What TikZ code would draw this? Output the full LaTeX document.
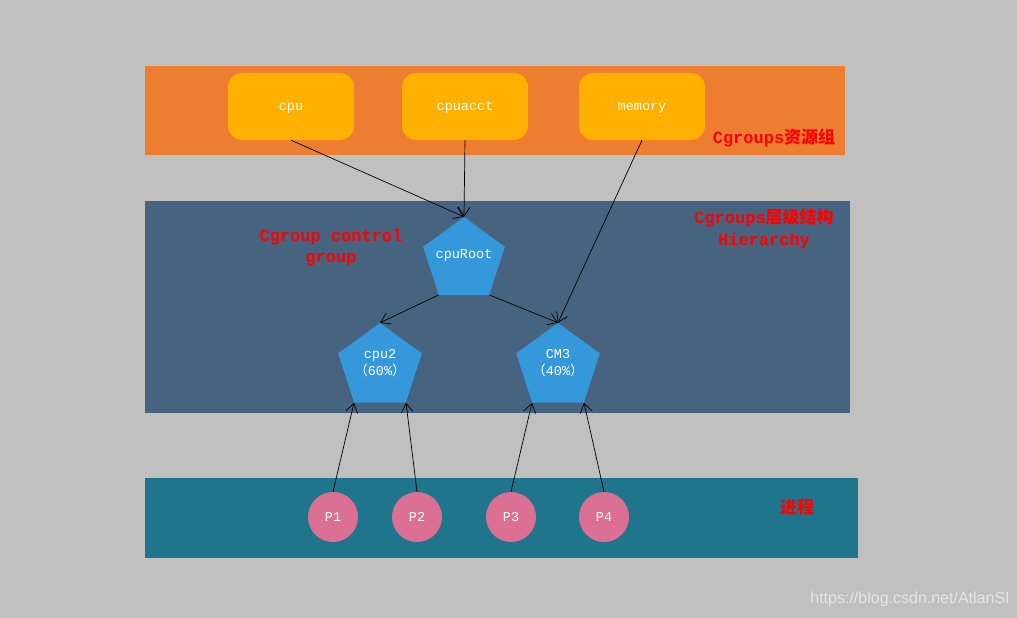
\documentclass[tikz,border=0pt]{standalone}
\usepackage{fontspec}
\setmainfont{Liberation Mono}
\newfontfamily\cjk{Noto Sans CJK SC}
\newfontfamily\wmfont{Liberation Sans}
\usetikzlibrary{shapes.geometric,arrows.meta}
\definecolor{bggray}{HTML}{C0C0C0}
\definecolor{bandorange}{HTML}{ED7D31}
\definecolor{boxyellow}{HTML}{FFB000}
\definecolor{bandslate}{HTML}{46637F}
\definecolor{pentblue}{HTML}{3498DB}
\definecolor{bandteal}{HTML}{1F758B}
\definecolor{procpink}{HTML}{DC7094}
\definecolor{labred}{HTML}{FF0000}
\definecolor{wmgray}{HTML}{E6E6E6}
\tikzset{
  resbox/.style={fill=boxyellow, rounded corners=14pt, minimum width=126pt, minimum height=67pt, inner sep=0pt, text=white, text depth=0pt, font=\fontsize{13.5pt}{17pt}\selectfont},
  pent/.style={regular polygon, regular polygon sides=5, fill=pentblue, inner sep=0pt},
  ptext/.style={text=white, align=center, font=\fontsize{13.5pt}{17pt}\selectfont, inner sep=0pt},
  proc/.style={circle, fill=procpink, minimum size=50pt, inner sep=0pt, text=white, font=\fontsize{13.5pt}{17pt}\selectfont},
  redlab/.style={text=labred, align=center, inner sep=0pt, font=\bfseries\fontsize{17pt}{21pt}\selectfont},
  arr/.style={draw=black, line width=0.7pt, -{Straight Barb[length=9pt,width=12pt]}}
}
\begin{document}
\begin{tikzpicture}[x=1pt,y=-1pt]
\fill[bggray] (0,0) rectangle (1017,618);
\useasboundingbox (0,0) rectangle (1017,618);
% bands
\fill[bandorange] (145,66) rectangle (845,155);
\fill[bandslate] (145,201) rectangle (850,413);
\fill[bandteal] (145,478) rectangle (858,558);
% resource boxes
\node[resbox] (cpu) at (291,106.5) {cpu};
\node[resbox] (cpuacct) at (465,106.5) {cpuacct};
\node[resbox] (memory) at (642,106.5) {memory};
\node[redlab] (lres) at (774,138) {Cgroups{\cjk 资源组}};
% hierarchy
\node[pent, minimum size=86pt] (root) at (464,260) {};
\node[pent, minimum size=88pt] (cpu2) at (380,367) {};
\node[pent, minimum size=88pt] (cm3) at (558,367) {};
\node[ptext] (rootT) at (464,255) {cpuRoot};
\node[ptext] (cpu2T) at (380,363) {cpu2\\{\cjk （}60\%{\cjk ）}};
\node[ptext] (cm3T) at (558,363) {CM3\\{\cjk （}40\%{\cjk ）}};
\node[redlab] (lcg) at (331,248) {Cgroup control\\group};
\node[redlab, font=\bfseries\fontsize{17pt}{22pt}\selectfont] (lhier) at (764,229) {Cgroups{\cjk 层级结构}\\Hierarchy};
% processes
\node[proc] (p1) at (333,517) {P1};
\node[proc] (p2) at (417,517) {P2};
\node[proc] (p3) at (511,517) {P3};
\node[proc] (p4) at (604,517) {P4};
\node[redlab] (lproc) at (797,507) {\cjk 进程};
% watermark
\node[text=wmgray, inner sep=0pt, font=\wmfont\fontsize{16pt}{18pt}\selectfont] (wm) at (910,599) {https://blog.csdn.net/AtlanSI};
% connectors
\draw[arr] (cpu.south) -- (root.corner 1);
\draw[arr] (cpuacct.south) -- (root.corner 1);
\draw[arr] (memory.south) -- (cm3.corner 1);
\draw[arr] (root.corner 3) -- (cpu2.corner 1);
\draw[arr] (root.corner 4) -- (cm3.corner 1);
\draw[arr] (p1.north) -- (cpu2.corner 3);
\draw[arr] (p2.north) -- (cpu2.corner 4);
\draw[arr] (p3.north) -- (cm3.corner 3);
\draw[arr] (p4.north) -- (cm3.corner 4);
\end{tikzpicture}
\end{document}
